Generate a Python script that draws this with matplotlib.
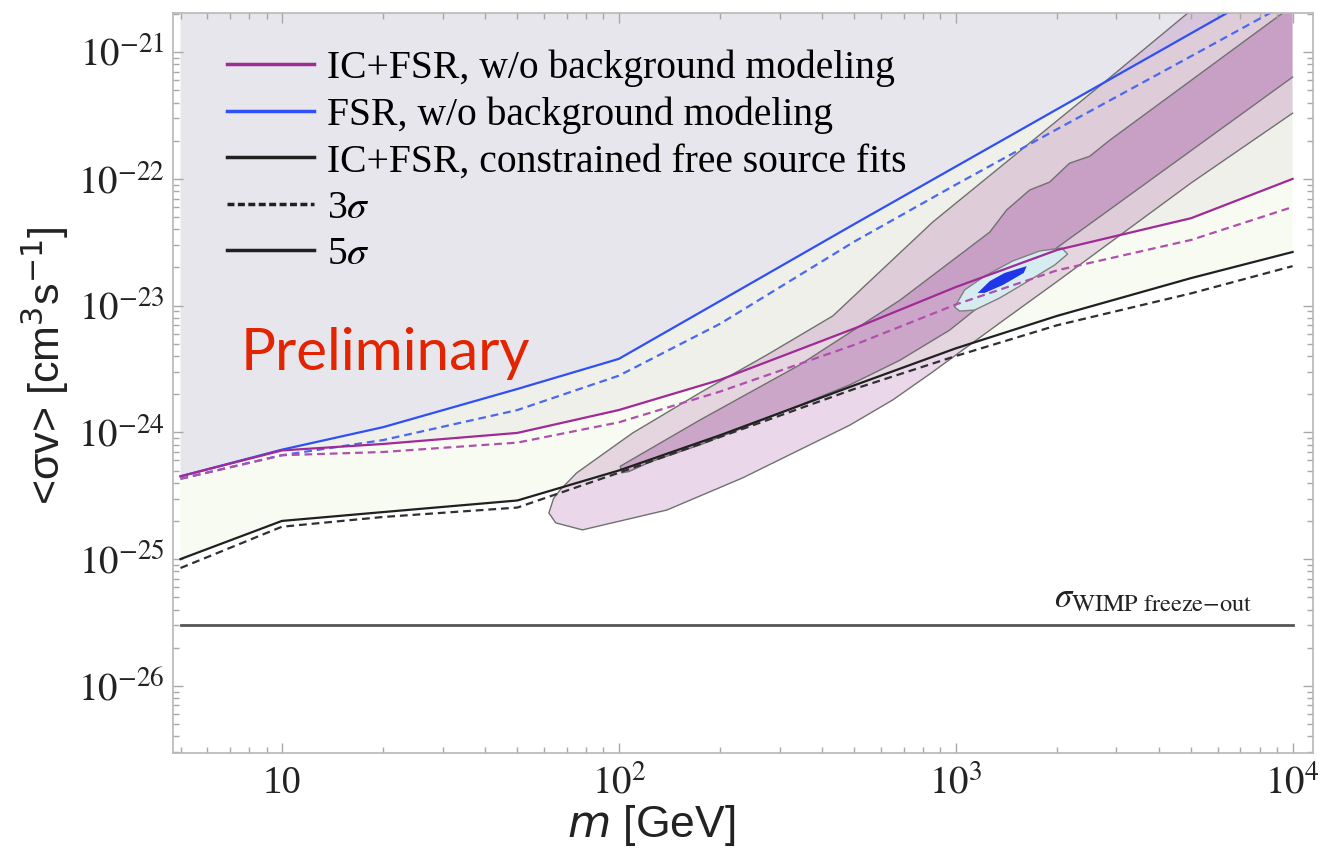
import matplotlib
matplotlib.use("Agg")
import matplotlib.pyplot as plt
from matplotlib.lines import Line2D
from matplotlib.ticker import FixedLocator, FixedFormatter, LogLocator, NullFormatter

plt.rcParams['mathtext.fontset'] = 'stix'
plt.rcParams['font.family'] = ['Liberation Serif', 'DejaVu Serif']

# dark matter mass grid [GeV]
mass = [5, 10, 20, 50, 100, 200, 500, 1000, 2000, 5000, 10000]

# upper limits on <sigma v> [cm^3 s^-1]
ic_fsr_nobg_5s = [4.5e-25, 7.2e-25, 8.1e-25, 9.9e-25, 1.5e-24, 2.6e-24, 6.6e-24, 1.4e-23, 2.75e-23, 4.9e-23, 1.0e-22]
ic_fsr_nobg_3s = [4.3e-25, 6.6e-25, 7.0e-25, 8.3e-25, 1.2e-24, 2.1e-24, 4.9e-24, 1.02e-23, 1.9e-23, 3.3e-23, 6.0e-23]
fsr_nobg_5s = [4.5e-25, 7.3e-25, 1.1e-24, 2.2e-24, 3.8e-24, 1.09e-23, 4.4e-23, 1.25e-22, 3.55e-22, 1.41e-21, 4.0e-21]
fsr_nobg_3s = [4.3e-25, 6.6e-25, 8.7e-25, 1.5e-24, 2.8e-24, 7.2e-24, 3.2e-23, 9.0e-23, 2.47e-22, 9.3e-22, 2.55e-21]
ic_fsr_free_5s = [1.0e-25, 2.0e-25, 2.35e-25, 2.9e-25, 5.0e-25, 9.5e-25, 2.35e-24, 4.6e-24, 8.3e-24, 1.65e-23, 2.65e-23]
ic_fsr_free_3s = [8.5e-26, 1.8e-25, 2.15e-25, 2.55e-25, 4.8e-25, 9.2e-25, 2.2e-24, 4.0e-24, 7.0e-24, 1.25e-23, 2.05e-23]
sigma_freeze_out = 3e-26

# galactic centre excess fit regions, outline from lower-right edge round the tip to upper-left edge
outer_m = [10000, 5000, 2000, 1352, 855, 650, 485, 233, 139, 78, 65, 62, 64, 67, 75, 110, 174, 275, 432, 855, 2806, 4880, 10000]
outer_sv = [3.3e-22, 9.3e-23, 1.55e-23, 7.3e-24, 3.0e-24, 1.8e-24, 1.14e-24, 4.37e-25, 2.44e-25, 1.7e-25, 1.93e-25, 2.31e-25,
            3.0e-25, 3.52e-25, 4.79e-25, 9.9e-25, 2.05e-24, 4.08e-24, 8.3e-24, 4.57e-23, 6.0e-22, 2.03e-21, 9.6e-21]
inner_m = [10000, 1900, 1352, 959, 682, 485, 245, 174, 124, 107, 102, 101, 115, 174, 344, 682, 1262, 1416, 1658, 1900,
           2178, 2500, 2866, 9330, 10000]
inner_sv = [6.36e-22, 2.6e-23, 1.33e-23, 6.4e-24, 3.7e-24, 2.37e-24, 1.14e-24, 7.96e-25, 5.85e-25, 4.9e-25, 4.8e-25, 5.4e-25,
            6.6e-25, 1.25e-24, 3.4e-24, 1.1e-23, 3.8e-23, 5.68e-23, 8.17e-23, 9.44e-23, 1.33e-22, 1.51e-22, 2.02e-22, 2.03e-21, 2.33e-21]
best_m = [993, 1063, 1219, 1476, 1775, 2064, 2149, 1966, 1660, 1352, 1138, 1028]
best_sv = [9.75e-24, 1.33e-23, 1.71e-23, 2.25e-23, 2.70e-23, 2.85e-23, 2.55e-23, 2.09e-23, 1.59e-23, 1.15e-23, 9.23e-24, 9.06e-24]
core_m = [1162, 1262, 1397, 1625, 1592, 1377, 1219]
core_sv = [1.26e-23, 1.56e-23, 1.81e-23, 2.05e-23, 1.81e-23, 1.45e-23, 1.26e-23]

sv_top = 1e-19

fig = plt.figure(figsize=(13.39, 8.58), dpi=100)
ax = fig.add_axes([0.1292, 0.1224, 0.8514, 0.8625])
ax.set_xscale('log')
ax.set_yscale('log')

# background shading between the limit curves
ax.fill(mass + [mass[-1], mass[0]], fsr_nobg_5s + [sv_top, sv_top], color='#e6e6ec', lw=0, zorder=0)
ax.fill(mass + mass[::-1], fsr_nobg_5s + ic_fsr_nobg_5s[::-1], color='#f0f0ea', lw=0, zorder=0)
ax.fill(mass + mass[::-1], ic_fsr_nobg_5s + ic_fsr_free_5s[::-1], color='#f8fbf1', lw=0, zorder=0)

# excess regions
ax.fill(outer_m, outer_sv, color='#a050a0', alpha=0.22, lw=0, zorder=1)
ax.fill(inner_m, inner_sv, color='#a050a0', alpha=0.35, lw=0, zorder=1)
ax.plot(outer_m, outer_sv, color='#707070', lw=1.0, zorder=1.5)
ax.plot(inner_m, inner_sv, color='#707070', lw=1.0, zorder=1.5)
ax.fill(best_m, best_sv, facecolor='#d6ecf0', edgecolor='#808080', lw=1.0, zorder=1.6)
ax.fill(core_m, core_sv, color='#1f35e6', lw=0, zorder=1.7)

# limit curves
dash = (0, (3.5, 2.2))
ax.plot(mass, fsr_nobg_5s, color='#2f50f2', lw=1.6, zorder=2)
ax.plot(mass, fsr_nobg_3s, color='#4a68f0', lw=1.6, ls=dash, zorder=2)
ax.plot(mass, ic_fsr_nobg_5s, color='#a02a98', lw=1.6, zorder=2)
ax.plot(mass, ic_fsr_nobg_3s, color='#b050ad', lw=1.6, ls=dash, zorder=2)
ax.plot(mass, ic_fsr_free_5s, color='#202020', lw=1.6, zorder=2)
ax.plot(mass, ic_fsr_free_3s, color='#303030', lw=1.6, ls=dash, zorder=2)
ax.plot([mass[0], mass[-1]], [sigma_freeze_out, sigma_freeze_out], color='#555555', lw=2.0, zorder=2)

ax.text(7600, sigma_freeze_out * 1.2, r'$\sigma_{\mathrm{WIMP\ freeze{-}out}}$', fontsize=25,
        ha='right', va='bottom', color='#222222')

ax.set_xlim(4.75, 1.15e4)
ax.set_ylim(2.95e-27, 2.04e-21)

ax.xaxis.set_major_locator(FixedLocator([10, 100, 1000, 10000]))
ax.xaxis.set_major_formatter(FixedFormatter(['10', r'$10^2$', r'$10^3$', r'$10^4$']))
ax.xaxis.set_minor_locator(LogLocator(base=10, subs=range(2, 10), numticks=20))
ax.xaxis.set_minor_formatter(NullFormatter())
ydec = [1e-26, 1e-25, 1e-24, 1e-23, 1e-22, 1e-21]
ax.yaxis.set_major_locator(FixedLocator(ydec))
ax.yaxis.set_major_formatter(FixedFormatter([r'$10^{-26}$', r'$10^{-25}$', r'$10^{-24}$',
                                             r'$10^{-23}$', r'$10^{-22}$', r'$10^{-21}$']))
ax.yaxis.set_minor_locator(LogLocator(base=10, subs=range(2, 10), numticks=20))
ax.yaxis.set_minor_formatter(NullFormatter())
ax.tick_params(which='both', direction='in', top=True, right=True, color='#a8a8a8', width=1.0)
ax.tick_params(which='major', length=7, labelsize=28, labelcolor='#222222')
ax.tick_params(which='minor', length=4)
ax.tick_params(axis='x', pad=9)
ax.tick_params(axis='y', pad=6)
for s in ax.spines.values():
    s.set_color('#b8b8b8')
    s.set_linewidth(1.2)

handles = [Line2D([], [], color='#9b2d94', lw=2.5),
           Line2D([], [], color='#2f50f2', lw=2.5),
           Line2D([], [], color='#202020', lw=2.5),
           Line2D([], [], color='#202020', lw=2.5, ls=(0, (2.0, 1.0))),
           Line2D([], [], color='#202020', lw=2.5)]
labels = ['IC+FSR, w/o background modeling', 'FSR, w/o background modeling',
          'IC+FSR, constrained free source fits', r'3$\sigma$', r'5$\sigma$']
ax.legend(handles, labels, loc='upper left', bbox_to_anchor=(0.047, 0.951), frameon=False,
          fontsize=28.5, handlelength=2.2, handletextpad=0.33, labelspacing=0.24,
          borderpad=0, borderaxespad=0)

ax.text(0.059, 0.517, 'Preliminary', transform=ax.transAxes, fontsize=42, color='#e32400',
        family='Lato', ha='left', va='baseline')

fig.text(45 / 1339, 1 - 366 / 858, r'<σv> [cm$^3$s$^{-1}$]', rotation=90, ha='center', va='center',
         fontsize=31, family='Liberation Sans', math_fontfamily='dejavusans', color='#222222')
fig.text(651 / 1339, 1 - 826 / 858, r'$m$ [GeV]', ha='center', va='center',
         fontsize=32, family='Liberation Sans', math_fontfamily='dejavusans', color='#222222')

fig.savefig('out.png', dpi=100)
